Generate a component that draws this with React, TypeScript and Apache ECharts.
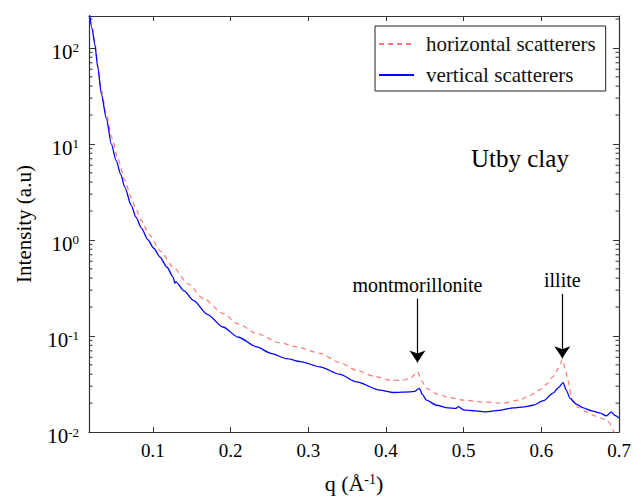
import React, { useEffect, useRef } from "react";
import * as echarts from "echarts";

const qVertical = [0.0178, 0.0215, 0.025, 0.029, 0.0335, 0.04, 0.0463, 0.0526, 0.0586, 0.0636, 0.072, 0.078, 0.085, 0.0936, 0.101, 0.109, 0.118, 0.126, 0.128, 0.1295, 0.14, 0.152, 0.17, 0.19, 0.21, 0.2335, 0.252, 0.272, 0.29, 0.315, 0.34, 0.362, 0.392, 0.41, 0.43, 0.437, 0.443, 0.447, 0.452, 0.465, 0.48, 0.49, 0.4935, 0.4995, 0.515, 0.529, 0.545, 0.5635, 0.578, 0.589, 0.603, 0.615, 0.622, 0.628, 0.632, 0.637, 0.645, 0.654, 0.665, 0.675, 0.684, 0.69, 0.694, 0.7];
const iVertical = [240, 160, 110, 62, 33, 18.4, 10, 6.7, 4.8, 3.55, 2.29, 1.73, 1.33, 1.0, 0.82, 0.664, 0.52, 0.411, 0.355, 0.366, 0.295, 0.235, 0.168, 0.124, 0.097, 0.077, 0.066, 0.058, 0.054, 0.0477, 0.04, 0.0333, 0.0273, 0.0258, 0.0262, 0.0265, 0.0285, 0.0245, 0.0215, 0.019, 0.0178, 0.0176, 0.0184, 0.017, 0.0166, 0.0162, 0.0168, 0.0178, 0.0183, 0.019, 0.0212, 0.0254, 0.029, 0.0326, 0.0275, 0.0224, 0.0195, 0.0178, 0.0166, 0.0158, 0.0147, 0.0162, 0.015, 0.014];

const qHorizontal = [0.0178, 0.0215, 0.025, 0.029, 0.0335, 0.0398, 0.047, 0.055, 0.0636, 0.072, 0.078, 0.085, 0.095, 0.11, 0.126, 0.145, 0.165, 0.1905, 0.21, 0.2335, 0.2635, 0.285, 0.315, 0.34, 0.362, 0.385, 0.405, 0.42, 0.431, 0.4407, 0.446, 0.452, 0.465, 0.48, 0.4995, 0.525, 0.551, 0.572, 0.585, 0.598, 0.607, 0.615, 0.622, 0.627, 0.631, 0.634, 0.64, 0.648, 0.658, 0.665, 0.675, 0.683, 0.688, 0.692, 0.697];
const iHorizontal = [245, 165, 118, 66, 36, 20.5, 11.6, 6.9, 4.2, 2.75, 2.1, 1.6, 1.14, 0.76, 0.522, 0.35, 0.245, 0.171, 0.133, 0.106, 0.085, 0.077, 0.066, 0.053, 0.044, 0.038, 0.0347, 0.0345, 0.036, 0.0424, 0.034, 0.0285, 0.025, 0.023, 0.0215, 0.0205, 0.02, 0.0215, 0.024, 0.0275, 0.0315, 0.0376, 0.046, 0.0569, 0.045, 0.0347, 0.021, 0.018, 0.0162, 0.0152, 0.014, 0.0135, 0.0125, 0.0105, 0.008];

const minorTickValues = [
  0.02, 0.03, 0.04, 0.05, 0.06, 0.07, 0.08, 0.09,
  0.2, 0.3, 0.4, 0.5, 0.6, 0.7, 0.8, 0.9,
  2, 3, 4, 5, 6, 7, 8, 9,
  20, 30, 40, 50, 60, 70, 80, 90,
  200,
];

const annotations = [
  { name: "montmorillonite", q: 0.4405, from: 0.245, to: 0.053 },
  { name: "illite", q: 0.627, from: 0.275, to: 0.0585 },
];

const seriesNames = ["horizontal scatterers", "vertical scatterers"];

const X_MIN = 0.0176;
const X_MAX = 0.7;
const Y_MIN = 0.01;
const Y_MAX = 215;
const FONT = "Liberation Serif";
const AXIS_COLOR = "#333";

export default function App() {
  const ref = useRef<HTMLDivElement>(null);

  useEffect(() => {
    document.body.style.margin = "0";
    if (!ref.current) return;
    const chart = echarts.init(ref.current, null, { renderer: "svg" });

    const yLabel = (v: number) => {
      const e = Math.round(Math.log10(v));
      return `{b|10}{s|${e}}`;
    };

    const option: any = {
      animation: false,
      backgroundColor: "#fff",
      textStyle: { fontFamily: FONT, color: "#000" },
      grid: { left: 89, right: 22, top: 16, bottom: 69, containLabel: false },
      legend: {
        data: seriesNames,
        left: 375,
        top: 26,
        orient: "vertical",
        selectedMode: false,
        borderColor: "#222",
        borderWidth: 1,
        padding: [7, 10, 5, 3],
        itemWidth: 35,
        itemHeight: 14,
        itemGap: 9,
        itemStyle: { opacity: 0 },
        textStyle: {
          fontFamily: FONT,
          fontSize: 21,
          color: "#111",
          lineHeight: 22,
          padding: [0, 0, 0, 7],
        },
      },
      xAxis: [
        {
          type: "value",
          min: X_MIN,
          max: X_MAX,
          position: "bottom",
          name: "q (Å{s|-1})",
          nameLocation: "middle",
          nameGap: 40,
          nameTextStyle: {
            fontFamily: FONT,
            fontSize: 22,
            color: "#000",
            rich: {
              s: { fontSize: 14, fontFamily: FONT, verticalAlign: "top", color: "#000", padding: [0, 0, 6, 0] },
            },
          },
          axisLine: { show: true, lineStyle: { color: AXIS_COLOR, width: 1.2 } },
          axisTick: { show: true, inside: true, length: 5, lineStyle: { color: AXIS_COLOR } },
          axisLabel: {
            show: true,
            showMinLabel: false,
            margin: 9,
            fontFamily: FONT,
            fontSize: 19,
            color: "#000",
            formatter: (v: number) => v.toFixed(1),
          },
          splitLine: { show: false },
        },
        {
          type: "value",
          min: X_MIN,
          max: X_MAX,
          position: "top",
          axisLine: { show: true, lineStyle: { color: AXIS_COLOR, width: 1.2 } },
          axisTick: { show: true, inside: true, length: 5, lineStyle: { color: AXIS_COLOR } },
          axisLabel: { show: false },
          splitLine: { show: false },
        },
      ],
      yAxis: [
        {
          type: "log",
          logBase: 10,
          min: Y_MIN,
          max: Y_MAX,
          position: "left",
          name: "Intensity (a.u)",
          nameLocation: "middle",
          nameGap: 55,
          nameRotate: 90,
          nameTextStyle: { fontFamily: FONT, fontSize: 21, color: "#000" },
          axisLine: { show: true, lineStyle: { color: AXIS_COLOR, width: 1.2 } },
          axisTick: { show: true, inside: true, length: 6, lineStyle: { color: AXIS_COLOR } },
          axisLabel: {
            show: true,
            showMaxLabel: false,
            margin: 10,
            formatter: yLabel,
            padding: [8, 0, 0, 0],
            rich: {
              b: { fontSize: 21, fontFamily: FONT, color: "#000" },
              s: { fontSize: 13, fontFamily: FONT, color: "#000", verticalAlign: "top" },
            },
          },
          splitLine: { show: false },
        },
        {
          type: "log",
          logBase: 10,
          min: Y_MIN,
          max: Y_MAX,
          position: "right",
          axisLine: { show: true, lineStyle: { color: AXIS_COLOR, width: 1.2 } },
          axisTick: { show: true, inside: true, length: 6, lineStyle: { color: AXIS_COLOR } },
          axisLabel: { show: false },
          splitLine: { show: false },
        },
      ],
      graphic: [
        {
          type: "text",
          left: 471,
          top: 146,
          style: {
            text: "Utby clay",
            fontFamily: FONT,
            fontSize: 25,
            fill: "#000",
          },
        },
      ],
      series: [
        {
          name: seriesNames[0],
          type: "line",
          xAxisIndex: 0,
          yAxisIndex: 0,
          data: qHorizontal.map((q, i) => [q, iHorizontal[i]]),
          symbol: "none",
          showSymbol: false,
          smooth: 0.25,
          smoothMonotone: "x",
          clip: true,
          lineStyle: { color: "#ff7878", width: 1.2, type: [5, 4] },
          itemStyle: { color: "#ff7878" },
          z: 3,
        },
        {
          name: seriesNames[1],
          type: "line",
          xAxisIndex: 0,
          yAxisIndex: 0,
          data: qVertical.map((q, i) => [q, iVertical[i]]),
          symbol: "none",
          showSymbol: false,
          smooth: 0.25,
          smoothMonotone: "x",
          clip: true,
          lineStyle: { color: "#0000ff", width: 1.3 },
          itemStyle: { color: "#0000ff" },
          z: 4,
          markLine: {
            silent: true,
            symbol: ["none", "arrow"],
            symbolSize: 12,
            lineStyle: { color: "#000", width: 1.2, type: "solid" },
            label: {
              show: true,
              position: "start",
              distance: 4,
              fontFamily: FONT,
              fontSize: 20,
              color: "#000",
              formatter: (p: any) => p.name,
            },
            data: annotations.map((a) => [
              { name: a.name, coord: [a.q, a.from] },
              { coord: [a.q, a.to] },
            ]),
          },
        },
        {
          name: "minor",
          type: "custom",
          xAxisIndex: 0,
          yAxisIndex: 0,
          silent: true,
          clip: false,
          data: minorTickValues.map((v) => [X_MIN, v]),
          renderItem: (params: any, api: any) => {
            const y = api.coord([X_MIN, api.value(1)])[1];
            const cs = params.coordSys;
            return {
              type: "group",
              children: [
                {
                  type: "line",
                  shape: { x1: cs.x, y1: y, x2: cs.x + 3.5, y2: y },
                  style: { stroke: AXIS_COLOR, lineWidth: 1 },
                },
                {
                  type: "line",
                  shape: { x1: cs.x + cs.width - 3.5, y1: y, x2: cs.x + cs.width, y2: y },
                  style: { stroke: AXIS_COLOR, lineWidth: 1 },
                },
              ],
            };
          },
        },
      ],
    };

    chart.setOption(option);
    return () => chart.dispose();
  }, []);

  return <div ref={ref} style={{ width: 641, height: 501 }} />;
}
